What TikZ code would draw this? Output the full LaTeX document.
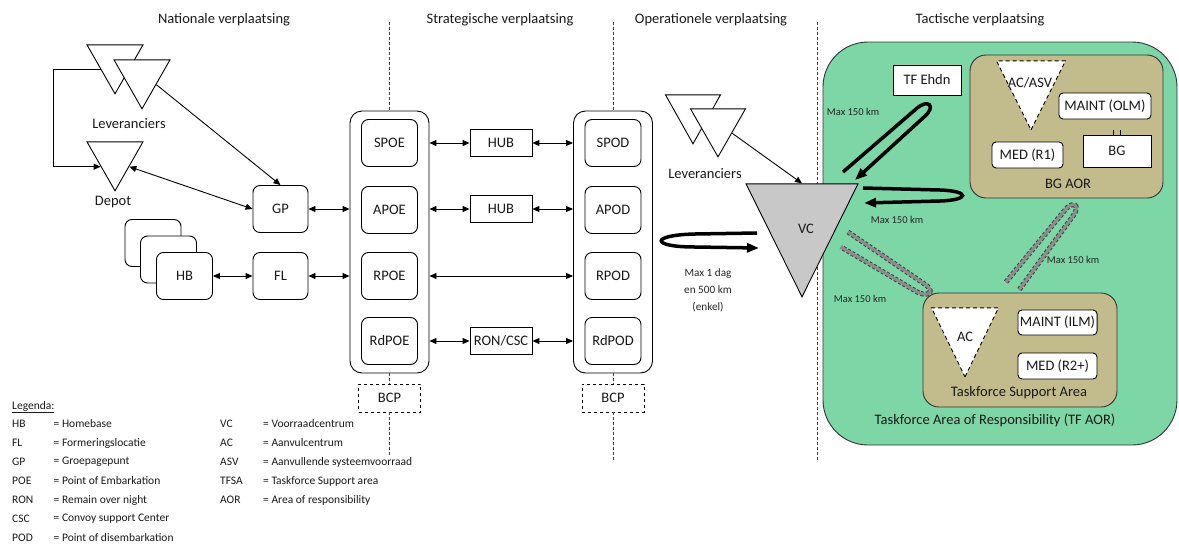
\documentclass[tikz,border=0pt]{standalone}
\usepackage{fontspec}
\setmainfont{Carlito}
\usetikzlibrary{shapes.geometric, arrows.meta}
\definecolor{tfgreen}{RGB}{125,214,166}
\definecolor{aorolive}{RGB}{194,187,140}
\definecolor{vcgray}{RGB}{200,200,200}
\definecolor{loopgray}{RGB}{140,140,140}

\begin{document}
\begin{tikzpicture}[x=1pt, y=-1pt,
  txt/.style={font=\fontsize{14.5}{17}\selectfont, text=black!90},
  small/.style={font=\fontsize{10.5}{13}\selectfont, text=black!85},
  legend/.style={font=\fontsize{11.5}{14}\selectfont, text=black!90, anchor=west, inner sep=0pt},
  cont/.style={draw, rounded corners=12pt, minimum width=79pt, minimum height=262pt, line width=0.9pt},
  rbox/.style={draw, rounded corners=7pt, fill=white, minimum width=56pt, minimum height=47pt, line width=0.9pt, txt},
  rsmall/.style={draw, rounded corners=4pt, fill=white, minimum height=26pt, inner sep=2pt, line width=0.9pt, txt},
  sbox/.style={draw, fill=white, minimum width=62pt, minimum height=27pt, inner sep=2pt, line width=0.8pt, txt},
  bcpbox/.style={draw, dashed, minimum width=62pt, minimum height=28pt, line width=0.8pt, txt},
  area/.style={draw, line width=0.9pt, black!80},
  tri/.style={isosceles triangle, isosceles triangle stretches, shape border rotate=270, draw, fill=white, line width=0.9pt, inner sep=0pt, anchor=apex},
  dtri/.style={tri, dash pattern=on 4pt off 3pt},
  sep/.style={dash pattern=on 3pt off 2pt, line width=0.9pt, black!75},
  arr/.style={{Triangle[length=7pt,width=6pt]}-{Triangle[length=7pt,width=6pt]}, line width=0.9pt},
  onearr/.style={-{Triangle[length=7pt,width=6pt]}, line width=0.9pt},
  bigloop/.style={line width=3.5pt, -{Triangle[length=12pt,width=9pt]}},
  grayloop/.style={line width=3pt, draw=loopgray, preaction={draw=black!75, line width=5pt, dash pattern=on 3pt off 2pt}}
  ]
  \useasboundingbox (0,0) rectangle (1179,544);

  % Tactical areas
  \node[area, fill=tfgreen, rounded corners=45pt, minimum width=354pt, minimum height=403pt] (tfaor) at (1000,243.5) {};
  \node[area, fill=aorolive, rounded corners=16pt, minimum width=193pt, minimum height=143pt] (bgaor) at (1066.5,126.5) {};
  \node[area, fill=aorolive, rounded corners=16pt, minimum width=194pt, minimum height=114pt] (tfsa) at (1020,350) {};

  % Titles
  \node[txt] (tnat) at (224,20) {Nationale verplaatsing};
  \node[txt] (tstr) at (500,20) {Strategische verplaatsing};
  \node[txt] (topr) at (711,20) {Operationele verplaatsing};
  \node[txt] (ttac) at (980,20) {Tactische verplaatsing};

  % Ports
  \node[cont] (poe) at (389.5,242) {};
  \node[cont] (pod) at (613,242) {};
  \node[rbox] (spoe) at (389.5,143) {SPOE};
  \node[rbox] (apoe) at (389.5,210) {APOE};
  \node[rbox] (rpoe) at (389.5,276) {RPOE};
  \node[rbox] (rdpoe) at (389.5,341) {RdPOE};
  \node[rbox] (spod) at (613,143) {SPOD};
  \node[rbox] (apod) at (613,210) {APOD};
  \node[rbox] (rpod) at (613,276) {RPOD};
  \node[rbox] (rdpod) at (613,341) {RdPOD};
  \node[bcpbox] (bcpa) at (389.5,398) {BCP};
  \node[bcpbox] (bcpb) at (613,398) {BCP};
  \node[sbox] (huba) at (501,143) {HUB};
  \node[sbox] (hubb) at (501,209) {HUB};
  \node[sbox] (roncsc) at (501,341) {RON/CSC};

  % Separators
  \coordinate (sepa) at (389.5,22);
  \coordinate (sepae) at (389.5,455);
  \coordinate (sepb) at (613,22);
  \coordinate (sepbe) at (613,460);
  \coordinate (sepc) at (817,22);
  \coordinate (sepce) at (817,460);
  \draw[sep] (sepa) -- (poe.north);
  \draw[sep] (poe.south) -- (bcpa.north);
  \draw[sep] (bcpa.south) -- (sepae);
  \draw[sep] (sepb) -- (pod.north);
  \draw[sep] (pod.south) -- (bcpb.north);
  \draw[sep] (bcpb.south) -- (sepbe);
  \draw[sep] (sepc) -- (sepce);

  % National nodes
  \node[rbox] (hbc) at (153,243) {};
  \node[rbox] (hbb) at (168.5,259.5) {};
  \node[rbox] (hb) at (184.5,276) {HB};
  \node[rbox, minimum width=55pt] (fl) at (280.5,276) {FL};
  \node[rbox, minimum width=55pt] (gp) at (280.5,209) {GP};
  \node[tri, minimum width=56pt, minimum height=49pt] (leva) at (115,95) {};
  \node[tri, minimum width=56pt, minimum height=49pt] (levb) at (142,110) {};
  \node[tri, minimum width=56pt, minimum height=49pt] (depot) at (115,192) {};
  \node[txt] (levlbl) at (129,124) {Leveranciers};
  \node[txt] (depotlbl) at (113,202) {Depot};

  % Operational nodes
  \node[tri, minimum width=55pt, minimum height=49pt] (levc) at (693,145) {};
  \node[tri, minimum width=55pt, minimum height=48pt] (levd) at (718,158) {};
  \node[txt] (levlblb) at (705,174) {Leveranciers};
  \node[tri, fill=vcgray, minimum width=112pt, minimum height=113pt] (vc) at (802,298) {};
  \node[txt] (vclbl) at (806,229) {VC};

  % Tactical nodes
  \node[sbox, minimum width=68pt, minimum height=30pt] (tfehdn) at (927,80) {TF Ehdn};
  \node[dtri, minimum width=69pt, minimum height=69pt] (acasv) at (1031,131) {};
  \node[txt] (acasvlbl) at (1030,83) {AC/ASV};
  \node[rsmall, minimum width=92pt] (maintolm) at (1105,106) {MAINT (OLM)};
  \node[rsmall, minimum width=71pt] (medr1) at (1027.5,155) {MED (R1)};
  \node[sbox, minimum width=68pt, minimum height=32pt] (bg) at (1117,151) {BG};
  \node[txt] (bgaorlbl) at (1068,184) {BG AOR};
  \node[dtri, minimum width=67pt, minimum height=69pt] (ac) at (965,378) {};
  \node[txt] (aclbl) at (965,337) {AC};
  \node[rsmall, minimum width=79pt, minimum height=25pt] (maintilm) at (1057.5,322.5) {MAINT (ILM)};
  \node[rsmall, minimum width=79pt] (medr2) at (1057.5,366) {MED (R2+)};
  \node[txt] (tfsalbl) at (1019,393) {Taskforce Support Area};
  \node[txt] (tfaorlbl) at (995,420) {Taskforce Area of Responsibility (TF AOR)};
  \draw[line width=0.6pt] ([xshift=-4pt]bg.north) -- ++(0,-5);
  \draw[line width=0.6pt] ([xshift=3pt]bg.north) -- ++(0,-5);

  % Draw connectors
  \draw[onearr] (leva.right side) -- ++(-47,0) |- (depot.right side);
  \draw[onearr] (levb.left side) -- (gp.north);
  \draw[arr] (depot.left side) -- (gp.west);
  \draw[arr] (gp.east) -- (gp.east -| poe.west);
  \draw[arr] (hb.east) -- (fl.west);
  \draw[arr] (fl.east) -- (fl.east -| poe.west);
  \draw[arr] (huba.west -| poe.east) -- (huba.west);
  \draw[arr] (huba.east) -- (huba.east -| pod.west);
  \draw[arr] (hubb.west -| poe.east) -- (hubb.west);
  \draw[arr] (hubb.east) -- (hubb.east -| pod.west);
  \draw[arr] (rpoe.east -| poe.east) -- (rpoe.east -| pod.west);
  \draw[arr] (roncsc.west -| poe.east) -- (roncsc.west);
  \draw[arr] (roncsc.east) -- (roncsc.east -| pod.west);
  \draw[onearr] (levd.left side) -- (vc.lower side);

  % Transport loops
  \coordinate (dags) at (757,233);
  \coordinate (dage) at (759,248);
  \draw[bigloop] (dags) -- (695,234) .. controls (650,235) and (650,247) .. (695,247) -- (dage);
  \coordinate (tfs) at (843,172);
  \coordinate (tfe) at (855,180);
  \draw[bigloop] (tfs) -- (916,109) .. controls (928,98) and (937,106) .. (924,117) -- (tfe);
  \coordinate (bgs) at (863,188);
  \coordinate (bge) at (864,203);
  \draw[bigloop] (bgs) -- (940,190) .. controls (970,191) and (970,200) .. (940,201) -- (bge);
  \coordinate (vts) at (848,232);
  \coordinate (vte) at (841,247);
  \draw[grayloop] (vts) -- (923,283) .. controls (935,290) and (931,297) .. (919,293) -- (vte);
  \coordinate (bts) at (1006,282);
  \coordinate (bte) at (1019,290);
  \draw[grayloop] (bts) -- (1065,210) .. controls (1073,200) and (1081,205) .. (1073,216) -- (bte);

  % Distance labels
  \node[small, align=center, font=\fontsize{11.2}{17}\selectfont] (daglbl) at (708,290) {Max 1 dag\\en 500 km\\(enkel)};
  \node[small] (kma) at (853,112) {Max 150 km};
  \node[small] (kmb) at (897,220) {Max 150 km};
  \node[small] (kmc) at (860,299) {Max 150 km};
  \node[small] (kmd) at (1073,260) {Max 150 km};

  % Legend
  \node[legend] (lgd) at (12,407) {\underline{Legenda:}};
  \node[legend] (lhb) at (12,424) {HB};
  \node[legend] (lhbt) at (53.5,424) {= Homebase};
  \node[legend] (lfl) at (12,443) {FL};
  \node[legend] (lflt) at (53.5,443) {= Formeringslocatie};
  \node[legend] (lgp) at (12,462) {GP};
  \node[legend] (lgpt) at (53.5,462) {= Groepagepunt};
  \node[legend] (lpoe) at (12,481) {POE};
  \node[legend] (lpoet) at (53.5,481) {= Point of Embarkation};
  \node[legend] (lron) at (12,500) {RON};
  \node[legend] (lront) at (53.5,500) {= Remain over night};
  \node[legend] (lcsc) at (12,519) {CSC};
  \node[legend] (lcsct) at (53.5,519) {= Convoy support Center};
  \node[legend] (lpod) at (12,538) {POD};
  \node[legend] (lpodt) at (53.5,538) {= Point of disembarkation};
  \node[legend] (lvc) at (220,424) {VC};
  \node[legend] (lvct) at (263,424) {= Voorraadcentrum};
  \node[legend] (lac) at (220,443) {AC};
  \node[legend] (lact) at (263,443) {= Aanvulcentrum};
  \node[legend] (lasv) at (220,462) {ASV};
  \node[legend] (lasvt) at (263,462) {= Aanvullende systeemvoorraad};
  \node[legend] (ltfsa) at (220,481) {TFSA};
  \node[legend] (ltfsat) at (263,481) {= Taskforce Support area};
  \node[legend] (laor) at (220,500) {AOR};
  \node[legend] (laort) at (263,500) {= Area of responsibility};
\end{tikzpicture}
\end{document}
